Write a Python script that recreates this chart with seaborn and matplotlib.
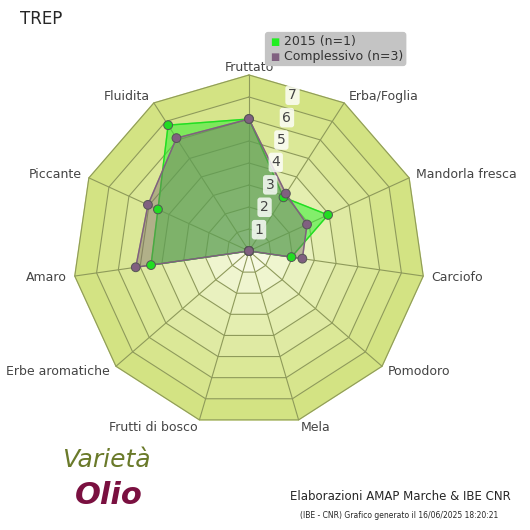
import numpy as np
import matplotlib
matplotlib.use("Agg")
import matplotlib.pyplot as plt
import seaborn as sns
import pandas as pd

categories = ["Fruttato", "Erba/Foglia", "Mandorla fresca", "Carciofo", "Pomodoro", "Mela",
              "Frutti di bosco", "Erbe aromatiche", "Amaro", "Piccante", "Fluidita"]
serie_2015 = [6.0, 2.9, 3.95, 1.95, 0, 0, 0, 0, 4.5, 4.55, 6.8]
serie_tot = [6.0, 3.1, 2.9, 2.45, 0, 0, 0, 0, 5.2, 5.05, 6.1]
rings = [1, 2, 3, 4, 5, 6, 7, 8]
tick_labels = ["1", "2", "3", "4", "5", "6", "7"]

sns.set_style("white")
plt.rcParams['font.family'] = ['DejaVu Sans']

n = len(categories)
ang = np.pi / 2 - np.arange(n) * 2 * np.pi / n


def xy(vals):
    v = np.asarray(vals, float)
    return v * np.cos(ang), v * np.sin(ang)


fig = plt.figure(figsize=(5.3, 5.3), dpi=100)
ax = fig.add_axes([0, 0, 1, 1])
s = 22.0
cx, cy = 249, 251
ax.set_xlim(-cx / s, (530 - cx) / s)
ax.set_ylim(-(530 - cy) / s, cy / s)
ax.set_aspect("equal")
ax.axis("off")

# rings, darker outside
shades = ["#f6f9e2", "#eff5cf", "#e9f1bf", "#e4eeb0", "#dfeaa3", "#dbe897", "#d7e58d", "#d3e383"]
for r, c in zip(rings[::-1], shades[::-1]):
    x, y = xy([r] * n)
    ax.fill(x, y, color=c, zorder=1)
    ax.plot(np.append(x, x[0]), np.append(y, y[0]), color="#8e9a5a", lw=0.8, zorder=2)
for a in ang:
    ax.plot([0, 8 * np.cos(a)], [0, 8 * np.sin(a)], color="#8e9a5a", lw=0.8, zorder=2)

# series
x1, y1 = xy(serie_2015)
x2, y2 = xy(serie_tot)
ax.fill(x1, y1, color="#33ee33", alpha=0.55, zorder=3)
ax.plot(np.append(x1, x1[0]), np.append(y1, y1[0]), color="#22dd22", lw=1, zorder=4)
ax.fill(x2, y2, color="#7a6a6a", alpha=0.45, zorder=5)
ax.plot(np.append(x2, x2[0]), np.append(y2, y2[0]), color="#806080", lw=1, zorder=6)
df = pd.DataFrame({"x": np.concatenate([x1, x2]), "y": np.concatenate([y1, y2]),
                   "s": ["2015 (n=1)"] * n + ["Complessivo (n=3)"] * n})
sns.scatterplot(data=df, x="x", y="y", hue="s", palette=["#22dd22", "#806080"],
                s=40, edgecolor="#555555", linewidth=0.7, ax=ax, zorder=7, legend=False)

# tick labels
ta = np.deg2rad(76)
for i, t in enumerate(tick_labels):
    r = (i + 1) * 1.05
    ax.text(r * np.cos(ta) + 0.2, r * np.sin(ta) - 0.05, t, fontsize=10, color="#444444",
            ha="center", va="center", zorder=8,
            bbox=dict(boxstyle="round,pad=0.2", fc="white", ec="none", alpha=0.8))

# category labels
for c, a in zip(categories, ang):
    r = 8.35
    ca = np.cos(a)
    ha = "center" if abs(ca) < 0.15 else ("left" if ca > 0 else "right")
    ax.text(r * np.cos(a), r * np.sin(a), c, fontsize=9, color="#444444",
            ha=ha, va="center", zorder=8)

fig.text(20 / 530, 1 - 19 / 530, "TREP", fontsize=12, va="center", ha="left")
fig.text(268 / 530, 1 - 49 / 530, "    2015 (n=1)\n    Complessivo (n=3)", fontsize=9,
         va="center", ha="left", color="#333333", linespacing=1.2,
         bbox=dict(boxstyle="round,pad=0.25", fc="#c4c4c4", ec="none"))
fig.text(270 / 530, 1 - 42 / 530, "\u25a0", fontsize=7, color="#22ee22", va="center", ha="left")
fig.text(270 / 530, 1 - 57 / 530, "\u25a0", fontsize=7, color="#806080", va="center", ha="left")
fig.text(290 / 530, 1 - 497 / 530, "Elaborazioni AMAP Marche & IBE CNR", fontsize=8.5, ha="left", va="center")
fig.text(300 / 530, 1 - 516 / 530, "(IBE - CNR) Grafico generato il 16/06/2025 18:20:21", fontsize=5.5,
         ha="left", va="center")
fig.text(62 / 530, 1 - 460 / 530, "Varietà", fontsize=18, style="italic", color="#6a7a2a",
         ha="left", va="center")
fig.text(75 / 530, 1 - 495 / 530, "Olio", fontsize=22, style="italic", weight="bold",
         color="#7a1040", ha="left", va="center")

fig.savefig("out.png", dpi=100)
